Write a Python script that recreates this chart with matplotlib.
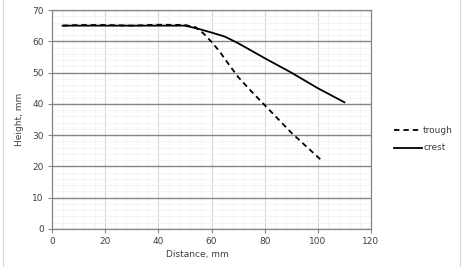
import numpy as np
import matplotlib.pyplot as plt
from matplotlib.ticker import MultipleLocator
from matplotlib.lines import Line2D

# data
trough_x = [4, 10, 20, 30, 40, 50, 54, 57, 60, 63, 66, 70, 75, 80, 90, 100, 102]
trough_y = [65, 65.2, 65.2, 65, 65.3, 65.2, 64.5, 62.5, 59.8, 56.8, 53.2, 48.6, 44, 39.6, 30.8, 23, 21.5]
crest_x = [4, 10, 20, 30, 40, 50, 55, 60, 65, 70, 80, 90, 100, 110]
crest_y = [65, 65, 65, 65, 65, 65, 64, 62.8, 61.5, 59.4, 54.6, 50, 45, 40.5]

W, H = 467, 267
fig = plt.figure(figsize=(W/100, H/100), dpi=100)
ax = fig.add_axes([52/W, 1-229/H, (371-52)/W, (229-10)/H])

ax.set_xlim(0, 120)
ax.set_ylim(0, 70)
ax.xaxis.set_major_locator(MultipleLocator(20))
ax.xaxis.set_minor_locator(MultipleLocator(4))
ax.yaxis.set_major_locator(MultipleLocator(10))
ax.yaxis.set_minor_locator(MultipleLocator(2))

ax.grid(which="minor", color="#f2f2f2", lw=0.6)
ax.grid(which="major", axis="x", color="#d9d9d9", lw=0.8)
ax.grid(which="major", axis="y", color="#868686", lw=1.0)
ax.set_axisbelow(True)

ax.plot(trough_x, trough_y, color="black", lw=1.3, ls=(0, (3, 2.2)))
ax.plot(crest_x, crest_y, color="black", lw=1.3)

for s in ax.spines.values():
    s.set_color("#868686")
    s.set_linewidth(0.9)
ax.tick_params(which="major", length=3, color="#868686", labelsize=6.5,
               labelcolor="#404040", pad=3)
ax.tick_params(which="minor", length=0)

ax.set_xlabel("Distance, mm", fontsize=6.5, color="#404040", labelpad=4)
ax.xaxis.set_label_coords(0.455, -0.095)
ax.set_ylabel("Height, mm", fontsize=6.5, color="#404040", labelpad=6)

# legend drawn at right, outside axes
for yy, ls, lab in [(130, (0, (3, 2.2)), "trough"), (148, "-", "crest")]:
    fig.add_artist(Line2D([394/W, 422/W], [1-yy/H, 1-yy/H], color="black",
                          lw=1.3, ls=ls))
    fig.text(423/W, 1-yy/H, lab, fontsize=6.5, color="#404040", va="center")

# outer chart border
fig.add_artist(Line2D([3/W, 3/W], [0, 1], color="#d9d9d9", lw=0.8))
fig.add_artist(Line2D([460/W, 460/W], [0, 1], color="#d9d9d9", lw=0.8))

fig.savefig("out.png", dpi=100)
